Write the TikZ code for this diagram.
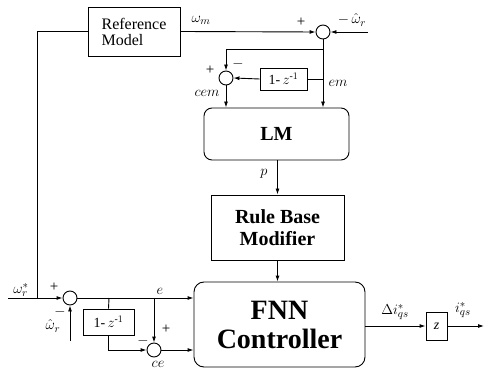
\documentclass[tikz,border=0pt]{standalone}
\usepackage{amsmath}
\usepackage{fontspec}
\setmainfont{Liberation Serif}
\usetikzlibrary{arrows.meta}

\begin{document}
\begin{tikzpicture}[x=1pt, y=-1pt,
    line width=0.9pt,
    >={Latex[length=6pt,width=4pt]},
    box/.style={draw, line width=0.9pt, align=center, inner sep=0pt},
    sumc/.style={draw, circle, minimum size=14pt, inner sep=0pt},
    lbl/.style={inner sep=0pt, font=\fontsize{15}{15}\selectfont},
]
\useasboundingbox (0,0) rectangle (484,371);
% blocks
\node[box, minimum width=92pt, minimum height=49pt, align=left, font=\fontsize{16}{16}\selectfont] (ref) at (134,31.5) {Reference\\Model};
\node[sumc] (s1) at (323,32) {};
\node[sumc] (s2) at (226,78) {};
\node[box, minimum width=47pt, minimum height=22pt, font=\fontsize{14}{14}\selectfont] (d1) at (283.5,79) {1-\,$z^{\text{-}1}$};
\node[box, rounded corners=8pt, minimum width=145pt, minimum height=52pt, font=\fontsize{20}{20}\selectfont\bfseries] (lm) at (276.5,134) {LM};
\node[box, minimum width=133pt, minimum height=65pt, font=\fontsize{20}{22}\selectfont\bfseries] (rbm) at (277.5,227.5) {Rule Base\\Modifier};
\node[box, rounded corners=10pt, minimum width=171pt, minimum height=85pt, font=\fontsize{28}{29}\selectfont\bfseries] (fnn) at (279.5,324.5) {FNN\\Controller};
\node[sumc] (s3) at (70,298) {};
\node[box, minimum width=51pt, minimum height=26pt, font=\fontsize{14}{14}\selectfont] (d2) at (108.5,322) {1-\,$z^{\text{-}1}$};
\node[sumc] (s4) at (154,350) {};
\node[box, minimum width=21pt, minimum height=28pt, font=\fontsize{14}{14}\selectfont\itshape] (zb) at (436.5,326) {z};
% points
\coordinate (in) at (8,298);
\coordinate (j1) at (37,298);
\coordinate (wr1) at (368,32);
\coordinate (wr2) at (70,341);
\coordinate (out) at (484,326);
% connections
\draw (in) -- (j1) |- (ref.west);
\draw[->] (j1) -- (s3.west);
\draw[->] (ref.east) -- (s1.west);
\draw[->] (wr1) -- (s1.east);
\draw (s1.south) -- (323,49) -| (226,49);
\draw[->] (226,49) -- (s2.north);
\draw[->] (323,49) -- (lm.north -| s1);
\draw (323,79) -- (d1.east);
\draw[->] (d1.west) -- (s2.east);
\draw[->] (s2.south) -- (lm.north -| s2);
\draw[->] (lm.south -| rbm) -- (rbm.north);
\draw[->] (rbm.south) -- (fnn.north -| rbm);
\draw[->] (wr2) -- (s3.south);
\draw[->] (s3.east) -- (fnn.west |- s3);
\draw (109,298) -- (d2.north);
\draw[->] (d2.south) |- (s4.west);
\draw[->] (154,298) -- (s4.north);
\draw[->] (s4.east) -- (fnn.west |- s4);
\draw[->] (fnn.east |- zb) -- (zb.west);
\draw[->] (zb.east) -- (out);
% labels
\node[lbl] at (201,20) {$\omega_m$};
\node[lbl] at (301,22) {+};
\node[lbl] at (352,20) {$-\,\hat{\omega}_r$};
\node[lbl] at (210,70) {+};
\node[lbl] at (238,64) {$-$};
\node[lbl] at (338,83) {$em$};
\node[lbl] at (207,93) {$cem$};
\node[lbl] at (264,174) {$p$};
\node[lbl] at (21,290) {$\omega_r^*$};
\node[lbl] at (54,287) {+};
\node[lbl] at (60,312) {$-$};
\node[lbl] at (53,326) {$\hat{\omega}_r$};
\node[lbl] at (160,291) {$e$};
\node[lbl] at (166,329) {+};
\node[lbl] at (143,341) {$-$};
\node[lbl] at (158,364) {$ce$};
\node[lbl] at (395,312) {$\Delta i_{qs}^*$};
\node[lbl] at (463,310) {$i_{qs}^*$};
\end{tikzpicture}
\end{document}
